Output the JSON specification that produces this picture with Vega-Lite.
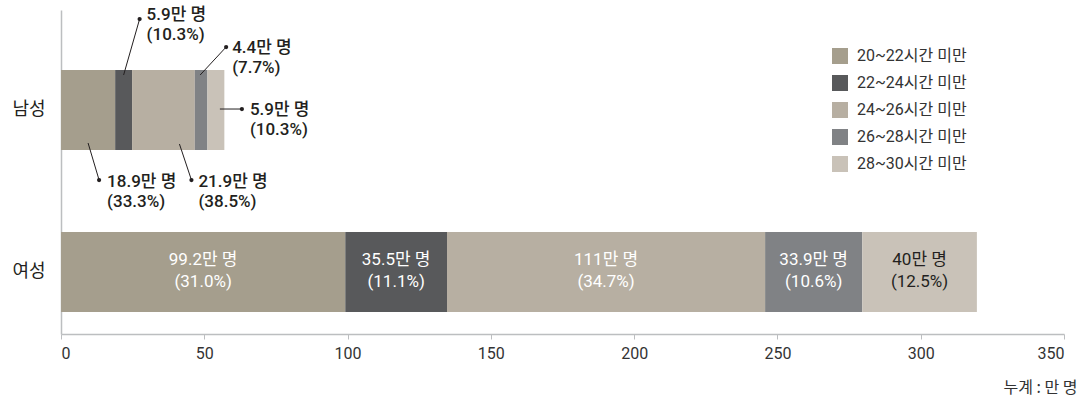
{
  "$schema": "https://vega.github.io/schema/vega-lite/v6.json",
  "width": 1003,
  "height": 324,
  "autosize": {"type": "none"},
  "padding": {"left": 61, "top": 10, "right": 22, "bottom": 64},
  "background": "white",
  "config": {
    "view": {"stroke": null},
    "font": "Roboto, Noto Sans CJK KR, sans-serif",
    "text": {"font": "Roboto, Noto Sans CJK KR, sans-serif"}
  },
  "data": {
    "values": [
      {"gender": "남성", "group": "20~22시간 미만", "value": 18.9, "pct": 33.3},
      {"gender": "남성", "group": "22~24시간 미만", "value": 5.9, "pct": 10.3},
      {"gender": "남성", "group": "24~26시간 미만", "value": 21.9, "pct": 38.5},
      {"gender": "남성", "group": "26~28시간 미만", "value": 4.4, "pct": 7.7},
      {"gender": "남성", "group": "28~30시간 미만", "value": 5.9, "pct": 10.3},
      {"gender": "여성", "group": "20~22시간 미만", "value": 99.2, "pct": 31.0},
      {"gender": "여성", "group": "22~24시간 미만", "value": 35.5, "pct": 11.1},
      {"gender": "여성", "group": "24~26시간 미만", "value": 111, "pct": 34.7},
      {"gender": "여성", "group": "26~28시간 미만", "value": 33.9, "pct": 10.6},
      {"gender": "여성", "group": "28~30시간 미만", "value": 40, "pct": 12.5}
    ]
  },
  "transform": [
    {"stack": "value", "groupby": ["gender"], "sort": [{"field": "group", "order": "ascending"}], "as": ["x0", "x1"]},
    {"calculate": "(datum.x0 + datum.x1) / 2", "as": "mid"},
    {"calculate": "[toString(datum.value) + '만 명', '(' + format(datum.pct, '.1f') + '%)']", "as": "label"}
  ],
  "encoding": {
    "y": {
      "field": "gender", "type": "nominal", "sort": ["남성", "여성"],
      "scale": {"paddingInner": 0.506, "paddingOuter": 0.253, "align": 0.732},
      "axis": {"title": null, "domainColor": "#bcbec0", "domainWidth": 1.5, "ticks": false, "labelFontSize": 18, "labelPadding": 16, "labelColor": "#231f20", "grid": false, "labelFont": "Noto Sans CJK KR"}
    }
  },
  "layer": [
    {
      "mark": {"type": "bar"},
      "encoding": {
        "x": {
          "field": "x0", "type": "quantitative",
          "scale": {"domain": [0, 350], "nice": false},
          "axis": {
            "values": [0, 50, 100, 150, 200, 250, 300, 350],
            "grid": false, "domainColor": "#bcbec0", "domainWidth": 1.5, "tickColor": "#bcbec0", "tickSize": 5,
            "labelFontSize": 16, "labelColor": "#333333", "labelPadding": 6,
            "title": "누계 : 만 명", "titleFontSize": 16, "titleFontWeight": "normal", "titleColor": "#333333",
            "titleAnchor": "end", "titleAlign": "right", "titleBaseline": "middle", "titleX": 1016, "titleY": 53,
            "titleFont": "Noto Sans CJK KR"
          }
        },
        "x2": {"field": "x1"},
        "color": {
          "field": "group", "type": "nominal",
          "scale": {
            "domain": ["20~22시간 미만", "22~24시간 미만", "24~26시간 미만", "26~28시간 미만", "28~30시간 미만"],
            "range": ["#a59e8d", "#58595b", "#b7afa2", "#808285", "#c9c2b8"]
          },
          "legend": {
            "title": null, "orient": "none", "legendX": 771, "legendY": 38,
            "symbolType": "square", "symbolSize": 256, "symbolStrokeWidth": 0, "symbolOpacity": 1,
            "labelFontSize": 16, "labelColor": "#333333", "labelOffset": 9, "rowPadding": 11,
            "labelFont": "Roboto, Noto Sans CJK KR"
          }
        }
      }
    },
    {
      "transform": [{"filter": "datum.gender === '여성'"}],
      "mark": {"type": "text", "align": "center", "baseline": "middle", "fontSize": 17, "lineHeight": 22, "dy": -12},
      "encoding": {
        "x": {"field": "mid", "type": "quantitative"},
        "text": {"field": "label"},
        "color": {"condition": {"test": "datum.group === '28~30시간 미만'", "value": "#231f20"}, "value": "#ffffff"}
      }
    },
    {
      "transform": [{"filter": "datum.gender === '남성' && datum.group === '20~22시간 미만'"}],
      "layer": [
        {"mark": {"type": "rule", "color": "#231f20", "strokeWidth": 1, "xOffset": 0, "yOffset": 33, "x2Offset": 11, "y2Offset": 70},
         "encoding": {"x": {"field": "mid", "type": "quantitative"}, "x2": {"field": "mid"}, "y2": {"field": "gender"}}},
        {"mark": {"type": "point", "filled": true, "color": "#231f20", "opacity": 1, "size": 18, "xOffset": 11, "yOffset": 70},
         "encoding": {"x": {"field": "mid", "type": "quantitative"}}},
        {"mark": {"type": "text", "align": "left", "baseline": "middle", "fontSize": 17, "fontWeight": 500, "lineHeight": 20, "color": "#231f20", "dx": 19, "dy": 72},
         "encoding": {"x": {"field": "mid", "type": "quantitative"}, "text": {"field": "label"}}}
      ]
    },
    {
      "transform": [{"filter": "datum.gender === '남성' && datum.group === '22~24시간 미만'"}],
      "layer": [
        {"mark": {"type": "rule", "color": "#231f20", "strokeWidth": 1, "xOffset": 0, "yOffset": -35, "x2Offset": 16, "y2Offset": -91},
         "encoding": {"x": {"field": "mid", "type": "quantitative"}, "x2": {"field": "mid"}, "y2": {"field": "gender"}}},
        {"mark": {"type": "point", "filled": true, "color": "#231f20", "opacity": 1, "size": 18, "xOffset": 16, "yOffset": -91},
         "encoding": {"x": {"field": "mid", "type": "quantitative"}}},
        {"mark": {"type": "text", "align": "left", "baseline": "middle", "fontSize": 17, "fontWeight": 500, "lineHeight": 20, "color": "#231f20", "dx": 23, "dy": -95},
         "encoding": {"x": {"field": "mid", "type": "quantitative"}, "text": {"field": "label"}}}
      ]
    },
    {
      "transform": [{"filter": "datum.gender === '남성' && datum.group === '24~26시간 미만'"}],
      "layer": [
        {"mark": {"type": "rule", "color": "#231f20", "strokeWidth": 1, "xOffset": 16, "yOffset": 34, "x2Offset": 28, "y2Offset": 70},
         "encoding": {"x": {"field": "mid", "type": "quantitative"}, "x2": {"field": "mid"}, "y2": {"field": "gender"}}},
        {"mark": {"type": "point", "filled": true, "color": "#231f20", "opacity": 1, "size": 18, "xOffset": 28, "yOffset": 70},
         "encoding": {"x": {"field": "mid", "type": "quantitative"}}},
        {"mark": {"type": "text", "align": "left", "baseline": "middle", "fontSize": 17, "fontWeight": 500, "lineHeight": 20, "color": "#231f20", "dx": 35, "dy": 72},
         "encoding": {"x": {"field": "mid", "type": "quantitative"}, "text": {"field": "label"}}}
      ]
    },
    {
      "transform": [{"filter": "datum.gender === '남성' && datum.group === '26~28시간 미만'"}],
      "layer": [
        {"mark": {"type": "rule", "color": "#231f20", "strokeWidth": 1, "xOffset": -1, "yOffset": -35, "x2Offset": 25, "y2Offset": -63},
         "encoding": {"x": {"field": "mid", "type": "quantitative"}, "x2": {"field": "mid"}, "y2": {"field": "gender"}}},
        {"mark": {"type": "point", "filled": true, "color": "#231f20", "opacity": 1, "size": 18, "xOffset": 25, "yOffset": -63},
         "encoding": {"x": {"field": "mid", "type": "quantitative"}}},
        {"mark": {"type": "text", "align": "left", "baseline": "middle", "fontSize": 17, "fontWeight": 500, "lineHeight": 20, "color": "#231f20", "dx": 31, "dy": -62},
         "encoding": {"x": {"field": "mid", "type": "quantitative"}, "text": {"field": "label"}}}
      ]
    },
    {
      "transform": [{"filter": "datum.gender === '남성' && datum.group === '28~30시간 미만'"}],
      "layer": [
        {"mark": {"type": "rule", "color": "#231f20", "strokeWidth": 1, "xOffset": 4, "yOffset": -1, "x2Offset": 26, "y2Offset": -1},
         "encoding": {"x": {"field": "mid", "type": "quantitative"}, "x2": {"field": "mid"}, "y2": {"field": "gender"}}},
        {"mark": {"type": "point", "filled": true, "color": "#231f20", "opacity": 1, "size": 18, "xOffset": 26, "yOffset": -1},
         "encoding": {"x": {"field": "mid", "type": "quantitative"}}},
        {"mark": {"type": "text", "align": "left", "baseline": "middle", "fontSize": 17, "fontWeight": 500, "lineHeight": 20, "color": "#231f20", "dx": 34, "dy": 0},
         "encoding": {"x": {"field": "mid", "type": "quantitative"}, "text": {"field": "label"}}}
      ]
    }
  ]
}
